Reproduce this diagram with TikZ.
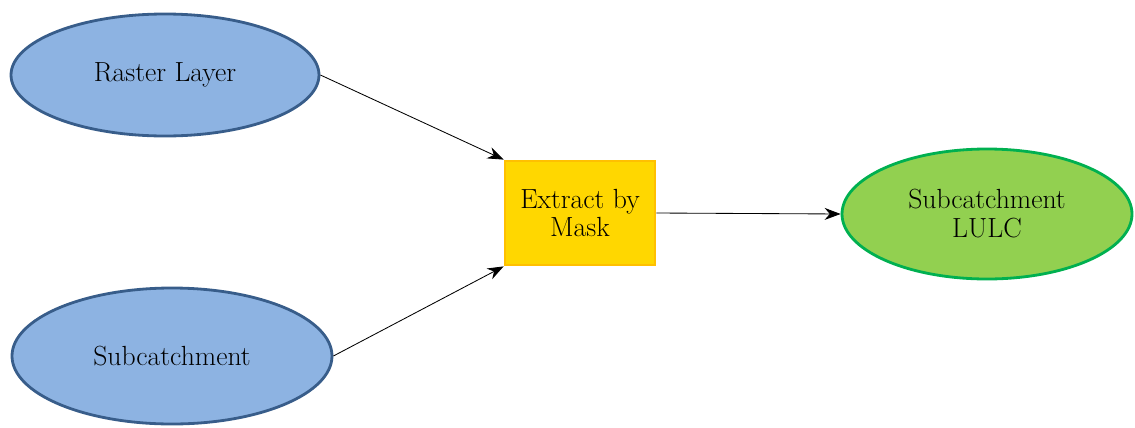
\documentclass[tikz,border=0pt]{standalone}
\usepackage{tikz}
\usetikzlibrary{arrows.meta, positioning, shapes.geometric}

\definecolor{inputfill}{RGB}{141,179,226}
\definecolor{inputline}{RGB}{56,93,138}
\definecolor{toolfill}{RGB}{255,215,0}
\definecolor{toolline}{RGB}{255,192,0}
\definecolor{outputfill}{RGB}{146,208,80}
\definecolor{outputline}{RGB}{0,176,80}

\begin{document}
\begin{tikzpicture}[
    font=\fontsize{19.7}{20.6}\selectfont,
    input/.style={ellipse, draw=inputline, fill=inputfill, line width=2pt, inner sep=0pt},
    tool/.style={draw=toolline, fill=toolfill, line width=2pt, align=center, minimum width=3.75cm, minimum height=2.6cm},
    output/.style={ellipse, draw=outputline, fill=outputfill, line width=2pt, align=center, inner sep=0pt},
    flow/.style={-{Stealth[length=4mm, width=3mm]}, semithick}
]

\useasboundingbox (0,0) rectangle (28.375,-10.675);

\node[input, minimum width=7.7cm, minimum height=3.05cm] (raster) at (4.125,-1.875) {Raster Layer};
\node[input, minimum width=8.0cm, minimum height=3.4cm] (subc) at (4.3,-8.9) {Subcatchment};
\node[tool] (mask) at (14.5,-5.325) {Extract by\\Mask};
\node[output, minimum width=7.25cm, minimum height=3.25cm] (lulc) at (24.675,-5.35) {Subcatchment\\LULC};

\draw[flow] (raster.east) -- (mask.north west);
\draw[flow] (subc.east) -- (mask.south west);
\draw[flow] (mask.east) -- (lulc.west);

\end{tikzpicture}
\end{document}
